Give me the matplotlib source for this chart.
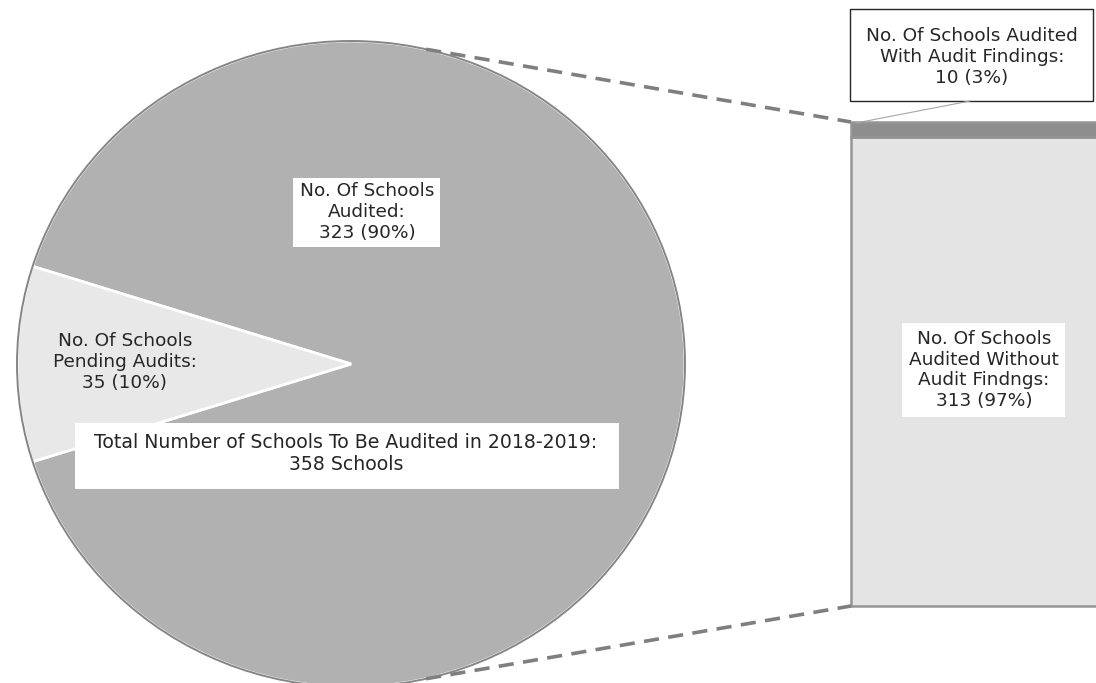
import matplotlib.pyplot as plt
from matplotlib.patches import Rectangle, Ellipse
import numpy as np

# data -------------------------------------------------------
pie_labels = ["No. Of Schools\nAudited:\n323 (90%)",
              "No. Of Schools\nPending Audits:\n35 (10%)"]
pie_values = [323, 35]
bar_labels = ["No. Of Schools\nAudited Without\nAudit Findngs:\n313 (97%)",
              "No. Of Schools Audited\nWith Audit Findings:\n10 (3%)"]
bar_values = [313, 10]
total_label = "Total Number of Schools To Be Audited in 2018-2019:\n358 Schools"

W, H = 1096, 683
pie_col = ["#b1b1b1", "#e8e8e8"]
bar_col = ["#e4e4e4", "#8e8e8e"]
fs = 13.3
ls = 1.2
tcol = "#262626"

fig = plt.figure(figsize=(W / 100, H / 100), dpi=100)
fig.patch.set_facecolor("white")

# pie (slightly wider than tall) --------------------------------
cx, cy, rx, ry = 351, 364, 334, 323          # pixel box of the pie
pax = fig.add_axes([(cx - rx) / W, (H - cy - ry) / H, 2 * rx / W, 2 * ry / H])
pend_angle = 360 * pie_values[1] / sum(pie_values)
wedges, _ = pax.pie(pie_values, colors=pie_col, startangle=180 + pend_angle / 2,
                    counterclock=True, radius=1,
                    wedgeprops=dict(edgecolor="white", linewidth=2))
for w in wedges:
    w.set_clip_on(False)
rim = Ellipse((0, 0), 2, 2, fill=False, edgecolor="#858585", lw=1.4)
rim.set_clip_on(False)
pax.add_patch(rim)
pax.set_aspect("auto")
pax.set_xlim(-1, 1)
pax.set_ylim(-1, 1)
pax.axis("off")

# stacked bar --------------------------------------------------
bx0, btop, bbot = 851, 122, 606
bax = fig.add_axes([bx0 / W, (H - bbot) / H, 320 / W, (bbot - btop) / H])
bottom = 0
for v, c in zip(bar_values, bar_col):
    bax.bar([0], [v], bottom=bottom, width=1, align="edge", color=c,
            edgecolor="#959595", linewidth=1.8, clip_on=False)
    bottom += v
bax.set_xlim(0, 1)
bax.set_ylim(0, sum(bar_values))
bax.axis("off")

# overlay in pixel coordinates ---------------------------------
ax = fig.add_axes([0, 0, 1, 1])
ax.set_xlim(0, W)
ax.set_ylim(H, 0)
ax.patch.set_alpha(0)
ax.axis("off")

t = np.radians(77)
top_pt = (cx + rx * np.cos(t), cy - ry * np.sin(t))
bot_pt = (cx + rx * np.cos(t), cy + ry * np.sin(t))
for p, q in [(top_pt, (bx0, btop)), (bot_pt, (bx0, bbot))]:
    ax.plot([p[0], q[0]], [p[1], q[1]], color="#7f7f7f", lw=2.6,
            dashes=(4.2, 2.6), solid_capstyle="butt")

# labels
ax.add_patch(Rectangle((293, 178), 147, 69, facecolor="white", edgecolor="none"))
ax.text(367, 212, pie_labels[0], ha="center", va="center", fontsize=fs,
        color=tcol, linespacing=ls)
ax.text(125, 362, pie_labels[1], ha="center", va="center", fontsize=fs,
        color=tcol, linespacing=ls)

ax.add_patch(Rectangle((75, 423), 544, 66, facecolor="white", edgecolor="none"))
ax.text(346, 454, total_label, ha="center", va="center", fontsize=13.6,
        color=tcol, linespacing=ls)

ax.add_patch(Rectangle((850, 9), 243, 92, facecolor="white",
                       edgecolor=tcol, lw=1))
ax.text(972, 57, bar_labels[1], ha="center", va="center", fontsize=fs,
        color=tcol, linespacing=ls)
ax.plot([970, 856], [101, 123], color="#a6a6a6", lw=0.8)

ax.add_patch(Rectangle((902, 323), 163, 94, facecolor="white", edgecolor="none"))
ax.text(984, 370, bar_labels[0], ha="center", va="center", fontsize=fs,
        color=tcol, linespacing=ls)

fig.savefig("out.png", dpi=100)
